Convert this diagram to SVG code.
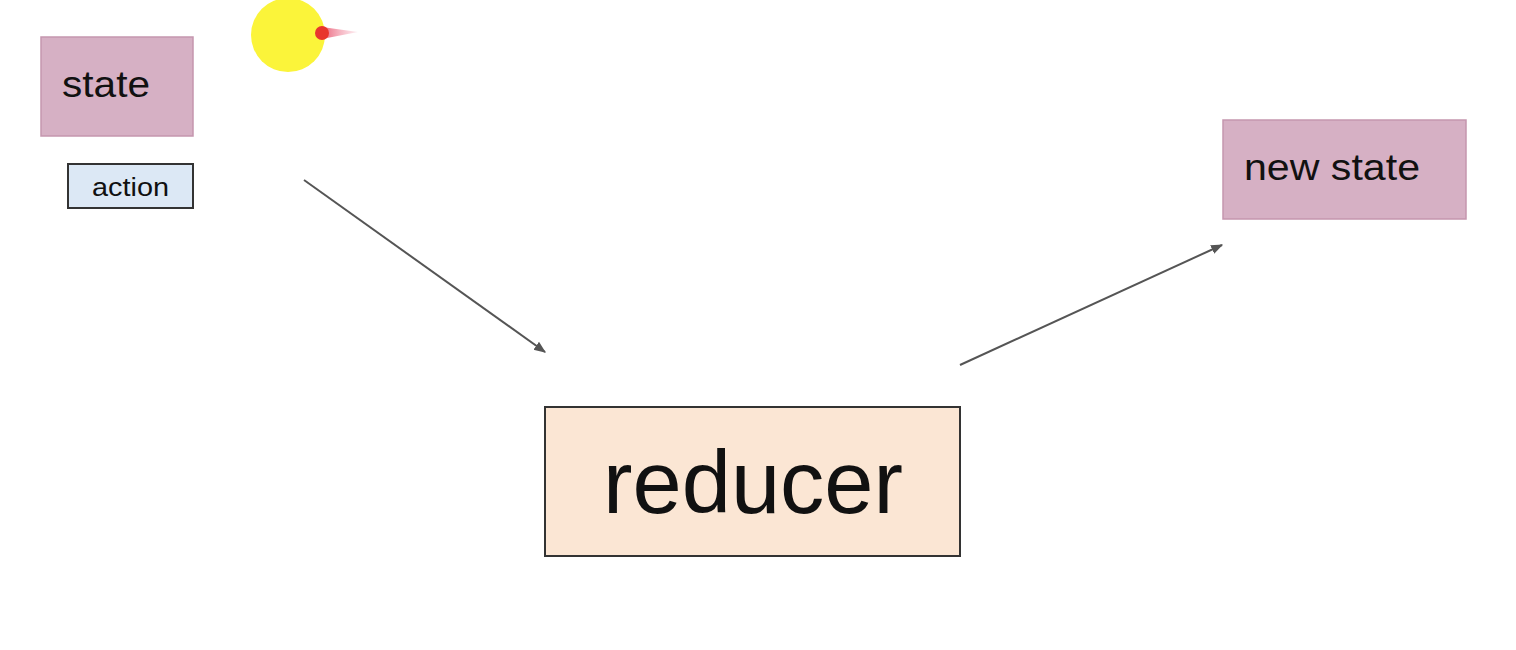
<svg xmlns="http://www.w3.org/2000/svg" width="1516" height="650" viewBox="0 0 1516 650">
<style>
.pink{fill:#d6b0c4;stroke:#c596ae;stroke-width:1.5}
.t{font-family:"Liberation Sans",Arial,sans-serif;fill:#111}
.conn{stroke:#555;stroke-width:2;fill:none;marker-end:url(#ah)}
</style>
<defs>
<marker id="ah" viewBox="0 0 10 10" refX="9" refY="5" markerWidth="6" markerHeight="6" orient="auto" markerUnits="strokeWidth">
<path d="M0,1 L10,5 L0,9 z" fill="#555"/>
</marker>
<linearGradient id="tail" x1="0" y1="0" x2="1" y2="0">
<stop offset="0" stop-color="#e8506a" stop-opacity="0.9"/>
<stop offset="1" stop-color="#f4a0b4" stop-opacity="0.2"/>
</linearGradient>
</defs>
<rect width="1516" height="650" fill="#ffffff"/>
<circle cx="288" cy="35" r="37" fill="#fbf43a"/>
<path d="M322,27 L358,32 L322,39 z" fill="url(#tail)"/>
<circle cx="322" cy="33" r="7" fill="#e8352e"/>
<g id="connectors">
<line class="conn" x1="304" y1="180" x2="545" y2="352"/>
<line class="conn" x1="960" y1="365" x2="1222" y2="245"/>
</g>
<g id="state">
<rect class="pink" x="41" y="37" width="152" height="99"/>
<text class="t" x="62" y="97" font-size="37" textLength="88" lengthAdjust="spacingAndGlyphs">state</text>
</g>
<g id="action">
<rect x="68" y="164" width="125" height="44" fill="#dce8f5" stroke="#333" stroke-width="2"/>
<text class="t" x="92" y="196" font-size="26" textLength="77" lengthAdjust="spacingAndGlyphs">action</text>
</g>
<g id="new-state">
<rect class="pink" x="1223" y="120" width="243" height="99"/>
<text class="t" x="1244" y="180" font-size="37" textLength="176" lengthAdjust="spacingAndGlyphs">new state</text>
</g>
<g id="reducer">
<rect x="545" y="407" width="415" height="149" fill="#fbe6d4" stroke="#333" stroke-width="2"/>
<text class="t" x="603" y="513" font-size="89" textLength="300" lengthAdjust="spacingAndGlyphs" fill="#000">reducer</text>
</g>
</svg>
